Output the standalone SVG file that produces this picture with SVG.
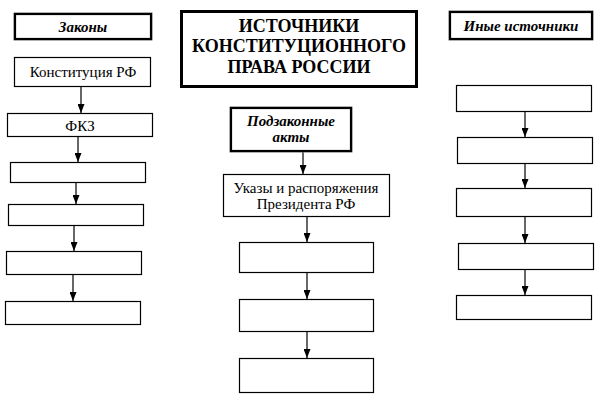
<svg xmlns="http://www.w3.org/2000/svg" width="603" height="405" viewBox="0 0 603 405">
<defs>
<style>
.b{fill:#fff;stroke:#000;stroke-width:1.2}
.h{fill:#fff;stroke:#000;stroke-width:2.2}
.hs{fill:none;stroke:#888;stroke-width:1}
.t{fill:#fff;stroke:#000;stroke-width:3}
text{font-family:'Liberation Serif','Times New Roman',serif !important}
.c{stroke:#000;stroke-width:1.2;fill:none;marker-end:url(#a)}
</style>
<marker id="a" markerWidth="9" markerHeight="7" refX="9" refY="3.5" orient="auto" markerUnits="userSpaceOnUse" viewBox="0 0 9 7">
<path d="M0,0 L9,3.5 L0,7 Z" fill="#000"/>
</marker>
</defs>
<rect width="603" height="405" fill="#fff"/>
<g id="connectors">
<path class="c" d="M81,87 V113"/>
<path class="c" d="M78,137 V162"/>
<path class="c" d="M76,183 V204"/>
<path class="c" d="M74,226 V251"/>
<path class="c" d="M73,275 V301"/>
<path class="c" d="M303,152 V174"/>
<path class="c" d="M307,217 V242"/>
<path class="c" d="M307,273 V299"/>
<path class="c" d="M307,332 V358"/>
<path class="c" d="M525,112 V137"/>
<path class="c" d="M525,164 V188"/>
<path class="c" d="M525,217 V243"/>
<path class="c" d="M525,270 V295"/>
</g>
<g id="title" text-anchor="middle" font-size="18" font-weight="bold">
<rect class="t" x="181.5" y="11.5" width="235" height="75"/>
<text x="299" y="32" style="font-family:'Liberation Serif',serif">ИСТОЧНИКИ</text>
<text x="299" y="52" style="font-family:'Liberation Serif',serif">КОНСТИТУЦИОННОГО</text>
<text x="299" y="73" style="font-family:'Liberation Serif',serif">ПРАВА РОССИИ</text>
</g>
<g id="zakony" text-anchor="middle" font-size="15" font-weight="bold" font-style="italic">
<rect class="hs" x="14" y="13" width="138" height="27"/>
<rect class="h" x="15" y="14" width="136" height="25"/>
<text x="83" y="32" style="font-family:'Liberation Serif',serif">Законы</text>
</g>
<g id="konst" text-anchor="middle" font-size="15">
<rect class="b" x="14.5" y="57.5" width="136" height="29"/>
<text x="83" y="77" style="font-family:'Liberation Serif',serif">Конституция РФ</text>
</g>
<g id="fkz" text-anchor="middle" font-size="15">
<rect class="b" x="7.5" y="113.5" width="145" height="23"/>
<text x="80" y="131" style="font-family:'Liberation Serif',serif">ФКЗ</text>
</g>
<g id="l3"><rect class="b" x="10.5" y="162.5" width="135" height="20"/></g>
<g id="l4"><rect class="b" x="8.5" y="204.5" width="135" height="21"/></g>
<g id="l5"><rect class="b" x="6.5" y="251.5" width="135" height="23"/></g>
<g id="l6"><rect class="b" x="5.5" y="301.5" width="135" height="23"/></g>
<g id="podz" text-anchor="middle" font-size="15" font-weight="bold" font-style="italic">
<rect class="hs" x="230" y="107" width="122" height="45"/>
<rect class="h" x="231" y="108" width="120" height="43"/>
<text x="291" y="126" style="font-family:'Liberation Serif',serif">Подзаконные</text>
<text x="291" y="142" style="font-family:'Liberation Serif',serif">акты</text>
</g>
<g id="ukazy" text-anchor="middle" font-size="15">
<rect class="b" x="223.5" y="174.5" width="166" height="42"/>
<text x="306" y="193" style="font-family:'Liberation Serif',serif">Указы и распоряжения</text>
<text x="306" y="209" style="font-family:'Liberation Serif',serif">Президента РФ</text>
</g>
<g id="c3"><rect class="b" x="239.5" y="242.5" width="134" height="30"/></g>
<g id="c4"><rect class="b" x="239.5" y="299.5" width="134" height="32"/></g>
<g id="c5"><rect class="b" x="239.5" y="358.5" width="134" height="34"/></g>
<g id="inye" text-anchor="middle" font-size="15" font-weight="bold" font-style="italic">
<rect class="hs" x="449" y="11" width="144" height="29"/>
<rect class="h" x="450" y="12" width="142" height="27"/>
<text x="521" y="31" style="font-family:'Liberation Serif',serif">Иные источники</text>
</g>
<g id="r1"><rect class="b" x="456.5" y="85.5" width="135" height="26"/></g>
<g id="r2"><rect class="b" x="457.5" y="137.5" width="135" height="26"/></g>
<g id="r3"><rect class="b" x="456.5" y="188.5" width="135" height="28"/></g>
<g id="r4"><rect class="b" x="458.5" y="243.5" width="135" height="26"/></g>
<g id="r5"><rect class="b" x="456.5" y="295.5" width="135" height="24"/></g>
</svg>
